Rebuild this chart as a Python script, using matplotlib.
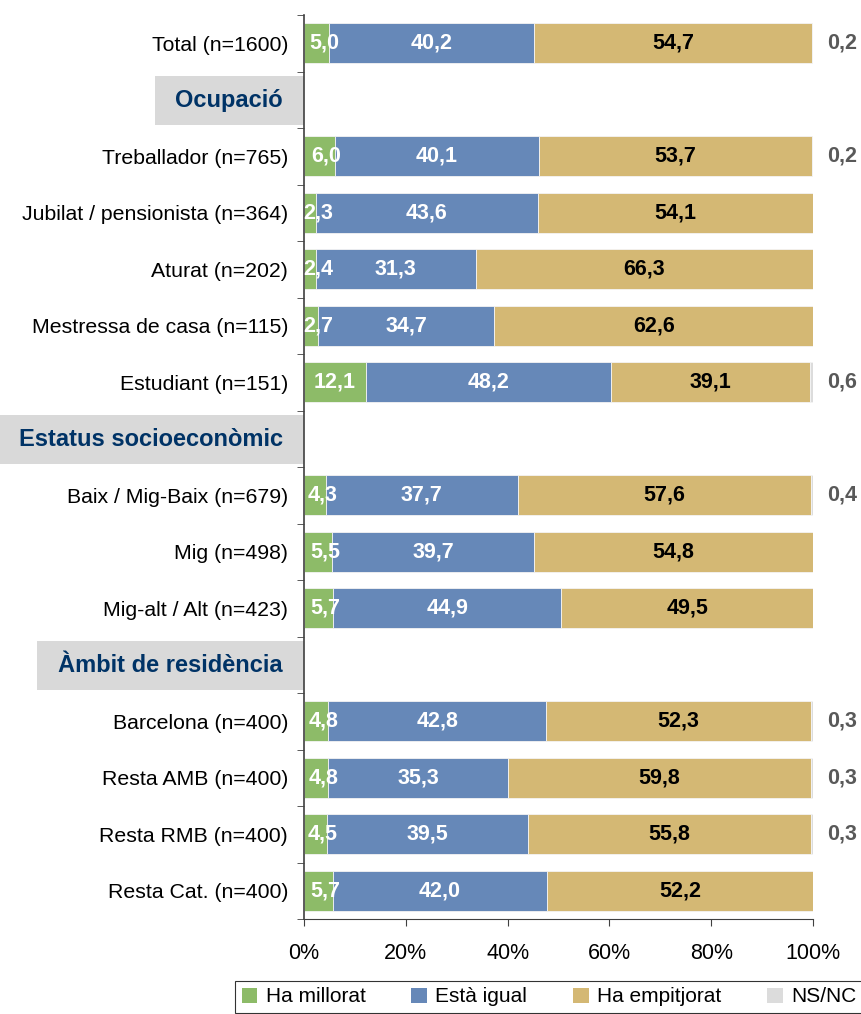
import matplotlib
matplotlib.use('Agg')
import matplotlib.pyplot as plt
import matplotlib.transforms as mtransforms
from matplotlib.patches import Rectangle, Patch

plt.rcParams['font.family'] = ['Liberation Sans', 'DejaVu Sans']

# files del grafic (None = capçalera de secció)
files = ['Total (n=1600)', None, 'Treballador (n=765)', 'Jubilat / pensionista (n=364)',
         'Aturat (n=202)', 'Mestressa de casa (n=115)', 'Estudiant (n=151)', None,
         'Baix / Mig-Baix (n=679)', 'Mig (n=498)', 'Mig-alt / Alt (n=423)', None,
         'Barcelona (n=400)', 'Resta AMB (n=400)', 'Resta RMB (n=400)', 'Resta Cat. (n=400)']
capcaleres = {1: 'Ocupació', 7: 'Estatus socioeconòmic', 11: 'Àmbit de residència'}

millorat = [5.0, None, 6.0, 2.3, 2.4, 2.7, 12.1, None, 4.3, 5.5, 5.7, None, 4.8, 4.8, 4.5, 5.7]
igual = [40.2, None, 40.1, 43.6, 31.3, 34.7, 48.2, None, 37.7, 39.7, 44.9, None, 42.8, 35.3, 39.5, 42.0]
empitjorat = [54.7, None, 53.7, 54.1, 66.3, 62.6, 39.1, None, 57.6, 54.8, 49.5, None, 52.3, 59.8, 55.8, 52.2]
nsnc = [0.2, None, 0.2, 0.0, 0.0, 0.0, 0.6, None, 0.4, 0.0, 0.0, None, 0.3, 0.3, 0.3, 0.0]

series = ['Ha millorat', 'Està igual', 'Ha empitjorat', 'NS/NC']
colors = ['#8DBB68', '#6688B8', '#D4B874', '#DCDCDC']

fig = plt.figure(figsize=(8.61, 10.14), dpi=100)
ax = fig.add_axes([304/861, 1 - 919/1014, 509/861, 904/1014])

def fmt(v):
    return f'{v:.1f}'.replace('.', ',')

n = len(files)
for i in range(n):
    if files[i] is None:
        continue
    vals = [millorat[i], igual[i], empitjorat[i], nsnc[i]]
    tot = sum(vals)
    left = 0
    for k, v in enumerate(vals):
        w = v / tot * 100
        ax.barh(i, w, left=left, height=0.71, color=colors[k], edgecolor='#F4F4F4', linewidth=0.6)
        if k == 0:
            xl = max(w / 2 + 1.4, 2.8) if w < 8 else w / 2
            ax.text(xl, i, fmt(v), ha='center', va='center',
                    color='white', fontsize=15.5, fontweight='bold')
        elif k == 1:
            ax.text(left + w / 2, i, fmt(v), ha='center', va='center',
                    color='white', fontsize=15.5, fontweight='bold')
        elif k == 2:
            ax.text(left + w / 2, i, fmt(v), ha='center', va='center',
                    color='black', fontsize=15.5, fontweight='bold')
        elif v > 0:
            ax.text(105.7, i, fmt(v), ha='center', va='center',
                    color='#595959', fontsize=15.5, fontweight='bold')
        left += w

# capçaleres grises
trans = mtransforms.blended_transform_factory(fig.transFigure, ax.transData)
inici = {1: 155, 7: 0, 11: 37}
for i, t in capcaleres.items():
    x0 = inici[i] / 861
    ax.add_patch(Rectangle((x0, i - 0.42), 304/861 - x0, 0.87, transform=trans,
                           facecolor='#D9D9D9', edgecolor='none', clip_on=False, zorder=0))
    ax.text(283/861, i + 0.02, t, transform=trans, ha='right', va='center', fontsize=17,
            fontweight='bold', color='#003366')

ax.set_ylim(n - 0.5, -0.5)
ax.set_xlim(0, 100)
yt = [i for i in range(n) if files[i] is not None]
ax.set_yticks(yt)
ax.set_yticklabels([files[i] for i in yt], fontsize=15.3)
ax.set_yticks([i - 0.5 for i in range(n + 1)], minor=True)
ax.tick_params(axis='y', which='major', length=0, pad=11.5)
ax.tick_params(axis='y', which='minor', length=5, direction='out', color='#404040')
ax.set_xticks([0, 20, 40, 60, 80, 100])
ax.set_xticklabels(['0%', '20%', '40%', '60%', '80%', '100%'], fontsize=15.5)
ax.tick_params(axis='x', length=5, direction='out', color='#404040', pad=12)
for s in ['top', 'right']:
    ax.spines[s].set_visible(False)
ax.spines['left'].set_color('#404040')
ax.spines['bottom'].set_color('#404040')
ax.spines['left'].set_linewidth(1.2)

handles = [Patch(facecolor=c, edgecolor='none') for c in colors]
leg = fig.legend(handles, series, loc='center', bbox_to_anchor=(549/861, 1 - 997/1014), ncol=4,
                 fontsize=15, frameon=True, fancybox=False, edgecolor='black',
                 handlelength=0.75, handleheight=0.75, handletextpad=0.4, columnspacing=2.2,
                 borderpad=0.3)
leg.get_frame().set_linewidth(0.8)

plt.savefig('out.png', dpi=100)
